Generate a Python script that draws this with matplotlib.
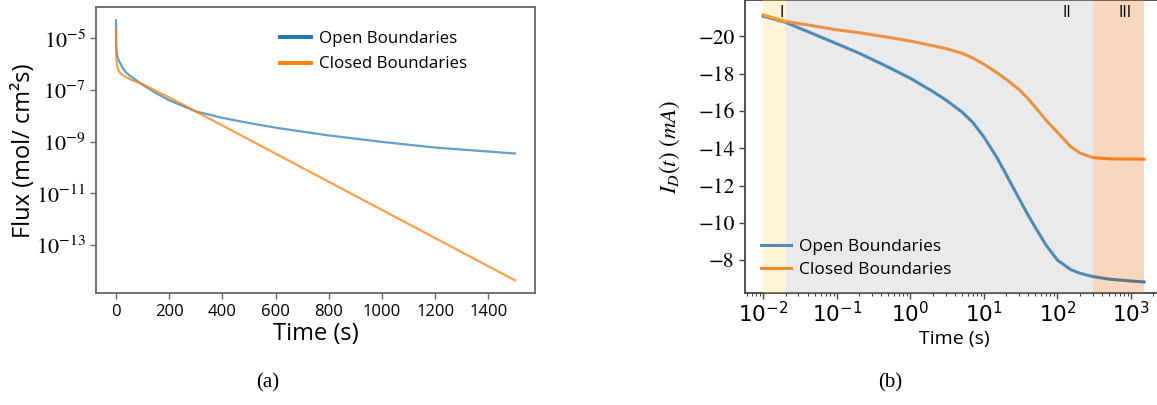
import numpy as np
import matplotlib
matplotlib.use("Agg")
import matplotlib.pyplot as plt
from matplotlib.lines import Line2D
from matplotlib.ticker import FuncFormatter, NullLocator

plt.rcParams['mathtext.fontset'] = 'stix'
SANS = 'Open Sans'
SERIF = 'STIXGeneral'

# (a) flux vs time, log10 of flux in mol/(cm^2 s)
t_open = [0, 0.5, 2, 5, 10, 16, 25, 40, 66, 100, 150, 200, 300, 400, 500, 600, 800, 1000, 1200, 1500]
flux_open_exp = [-4.3, -5.2, -5.5, -5.7, -5.85, -5.97, -6.15, -6.35, -6.55, -6.8, -7.12, -7.4,
                 -7.83, -8.08, -8.28, -8.46, -8.76, -9.01, -9.23, -9.46]
t_closed = [0, 0.5, 2, 5, 10, 16, 25, 40, 60, 100, 200, 300, 500, 700, 900, 1100, 1300, 1500]
flux_closed_exp = [-4.65, -5.3, -5.85, -6.1, -6.25, -6.35, -6.43, -6.51, -6.62, -6.78, -7.29,
                   -7.83, -8.92, -10.01, -11.10, -12.19, -13.28, -14.37]
flux_ticks = [1e-5, 1e-7, 1e-9, 1e-11, 1e-13]
time_ticks_a = [0, 200, 400, 600, 800, 1000, 1200, 1400]

# (b) drain current vs time (log time)
t_b = [0.01, 0.02, 0.05, 0.1, 0.2, 0.5, 1, 2, 3, 5, 7, 10, 15, 20, 30, 40, 50, 70, 100,
       150, 200, 300, 500, 1000, 1500]
id_open = [-21.08, -20.75, -20.1, -19.6, -19.1, -18.35, -17.75, -17.05, -16.6, -15.95, -15.4,
           -14.6, -13.5, -12.6, -11.3, -10.4, -9.75, -8.8, -8.0, -7.5, -7.3, -7.12, -6.98,
           -6.88, -6.83]
id_closed = [-21.15, -20.8, -20.55, -20.35, -20.2, -19.95, -19.75, -19.5, -19.35, -19.1, -18.85,
             -18.5, -18.05, -17.7, -17.15, -16.65, -16.2, -15.5, -14.85, -14.1, -13.75, -13.5,
             -13.43, -13.42, -13.41]
regions = [(0.01, 0.02), (0.02, 300), (300, 1500)]
region_colors = ['#ffde76', '#bbbbbb', '#eb7d2d']
region_names = ['I', 'II', 'III']
region_label_t = [0.0178, 134, 830]
id_ticks = [-20, -18, -16, -14, -12, -10, -8]

fig = plt.figure(figsize=(11.57, 4.05), dpi=100)

# ---- panel (a)
ax1 = fig.add_axes([0.0830, 0.2758, 0.3794, 0.7062])
ax1.plot(t_open, np.power(10.0, flux_open_exp), color='#1f77b4', lw=1.6, alpha=0.7)
ax1.plot(t_closed, np.power(10.0, flux_closed_exp), color='#ff7f0e', lw=1.6, alpha=0.75)
ax1.set_yscale('log')
ax1.set_yticks(flux_ticks)
ax1.yaxis.set_minor_locator(NullLocator())
ax1.yaxis.set_major_formatter(FuncFormatter(lambda v, p: r'$10^{%d}$' % round(np.log10(v))))
ax1.set_xticks(time_ticks_a)
ax1.set_xlim(-75, 1575)
ax1.set_ylim(10 ** -14.87, 10 ** -3.80)
for s in ax1.spines.values():
    s.set_color('#666666')
    s.set_linewidth(1.3)
ax1.tick_params(axis='both', colors='#666666', length=4, width=1)
for lab in ax1.get_xticklabels():
    lab.set_fontfamily(SANS)
    lab.set_fontsize(12)
    lab.set_color('black')
for lab in ax1.get_yticklabels():
    lab.set_fontsize(16)
    lab.set_color('black')
ax1.set_xlabel('Time (s)', fontfamily=SANS, fontsize=17, labelpad=2)
ax1.set_ylabel('Flux (mol/ cm²s)', fontfamily=SANS, fontsize=17, labelpad=0)
handles_a = [Line2D([], [], color='#1f77b4', lw=2.8),
             Line2D([], [], color='#ff7f0e', lw=2.8)]
ax1.legend(handles_a, ['Open Boundaries', 'Closed Boundaries'], loc='upper left',
           bbox_to_anchor=(0.385, 0.97), frameon=False, prop={'family': SANS, 'size': 12.2},
           handlelength=1.8, handletextpad=0.5, labelspacing=0.55)

# ---- panel (b)
ax2 = fig.add_axes([0.6439, 0.2758, 0.3613, 0.7242])
ax2.plot(t_b, id_open, color='#1f77b4', lw=2.2, zorder=2)
ax2.plot(t_b, id_closed, color='#ff7f0e', lw=2.2, zorder=2)
for (lo, hi), c in zip(regions, region_colors):
    ax2.axvspan(lo, hi, color=c, alpha=0.3, lw=0, zorder=3)
ax2.set_xscale('log')
ax2.set_xlim(10 ** -2.25, 10 ** 3.435)
ax2.set_ylim(-6.22, -21.95)
ax2.set_yticks(id_ticks)
for name, tx in zip(region_names, region_label_t):
    ax2.text(tx, -21.27, name, ha='center', va='center', fontfamily=SANS, fontsize=11.5, zorder=4)
for s in ax2.spines.values():
    s.set_color('#444444')
    s.set_linewidth(1.3)
ax2.tick_params(axis='both', which='major', colors='#444444', length=4, width=1)
ax2.tick_params(axis='x', which='major', pad=1.5)
ax2.tick_params(axis='x', which='minor', colors='#444444', length=2, width=0.8)
for lab in ax2.get_xticklabels() + ax2.get_yticklabels():
    lab.set_fontsize(15.5)
    lab.set_color('black')
for lab in ax2.get_yticklabels():
    lab.set_fontfamily(SERIF)
ax2.set_xlabel('Time (s)', fontfamily=SANS, fontsize=14, labelpad=3)
ax2.set_ylabel(r'$I_D(t)\ (mA)$', fontsize=16.5, labelpad=12)
handles_b = [Line2D([], [], color='#4e8bb6', lw=2.2),
             Line2D([], [], color='#ff8c2a', lw=2.2)]
leg = ax2.legend(handles_b, ['Open Boundaries', 'Closed Boundaries'], loc='lower left',
                 bbox_to_anchor=(0.0, 0.0), frameon=False, prop={'family': SANS, 'size': 12.5},
                 handlelength=1.75, handletextpad=0.45, labelspacing=0.4)
leg.set_zorder(5)

fig.text(268 / 1157, 1 - 383 / 405, '(a)', ha='center', va='center',
         fontfamily='Liberation Serif', fontsize=15)
fig.text(890 / 1157, 1 - 383 / 405, '(b)', ha='center', va='center',
         fontfamily='Liberation Serif', fontsize=15)

fig.savefig('out.png', dpi=100)
